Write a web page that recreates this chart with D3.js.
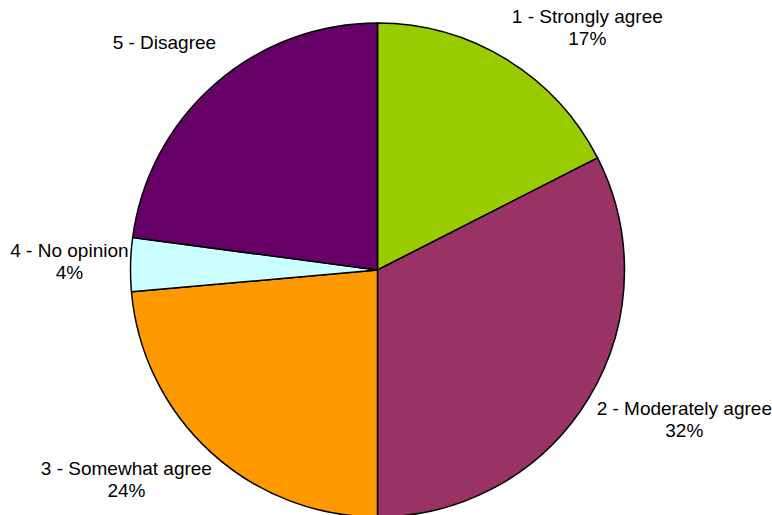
<!DOCTYPE html>
<html>
<head>
<meta charset="utf-8">
<script src="https://cdn.jsdelivr.net/npm/d3@7"></script>
<style>
  html, body { margin: 0; padding: 0; background: #fff; }
  svg { display: block; }
  text { font-family: "Liberation Sans", Arial, sans-serif; fill: #000; }
</style>
</head>
<body>
<svg id="chart" width="772" height="515"></svg>
<script>
const categories = ["1 - Strongly agree", "2 - Moderately agree", "3 - Somewhat agree", "4 - No opinion", "5 - Disagree"];
const values = [17.5, 32.5, 23.6, 3.5, 22.9];
const percentLabels = ["17%", "32%", "24%", "4%", ""];
const colors = ["#99CC00", "#993366", "#FF9900", "#CCFFFF", "#660066"];

const svg = d3.select("#chart");
const cx = 377.5, cy = 270, r = 247;
const fontSize = 19, lineH = 22;

const pie = d3.pie().sort(null).value(d => d)(values);
const arc = d3.arc().innerRadius(0).outerRadius(r);
const labelArc = d3.arc().innerRadius(r + 10).outerRadius(r + 10);

const g = svg.append("g").attr("transform", `translate(${cx},${cy})`);
g.selectAll("path").data(pie).join("path")
  .attr("d", arc)
  .attr("fill", (d, i) => colors[i])
  .attr("stroke", "#000")
  .attr("stroke-width", 1.5)
  .attr("stroke-linejoin", "round");

const clamp = v => Math.max(-1, Math.min(1, v));
pie.forEach((d, i) => {
  const a = (d.startAngle + d.endAngle) / 2;
  let [px, py] = labelArc.centroid(d);
  if (Math.sin(a) < 0) px += 8;
  const t = g.append("text")
    .attr("font-size", fontSize)
    .attr("text-anchor", "middle");
  t.append("tspan").attr("x", 0).attr("dy", 0).text(categories[i]);
  t.append("tspan").attr("x", 0).attr("dy", lineH).text(percentLabels[i]);
  let w = 0;
  t.selectAll("tspan").each(function() { w = Math.max(w, this.getComputedTextLength()); });
  const h = 2 * lineH;
  const bx = px + (w / 2) * clamp(Math.sin(a) * 2);
  const by = py - (h / 2) * clamp(Math.cos(a) * 1.5);
  const top = by - h / 2;
  t.attr("transform", `translate(${bx},${top + lineH * 0.72})`);
});
</script>
</body>
</html>
